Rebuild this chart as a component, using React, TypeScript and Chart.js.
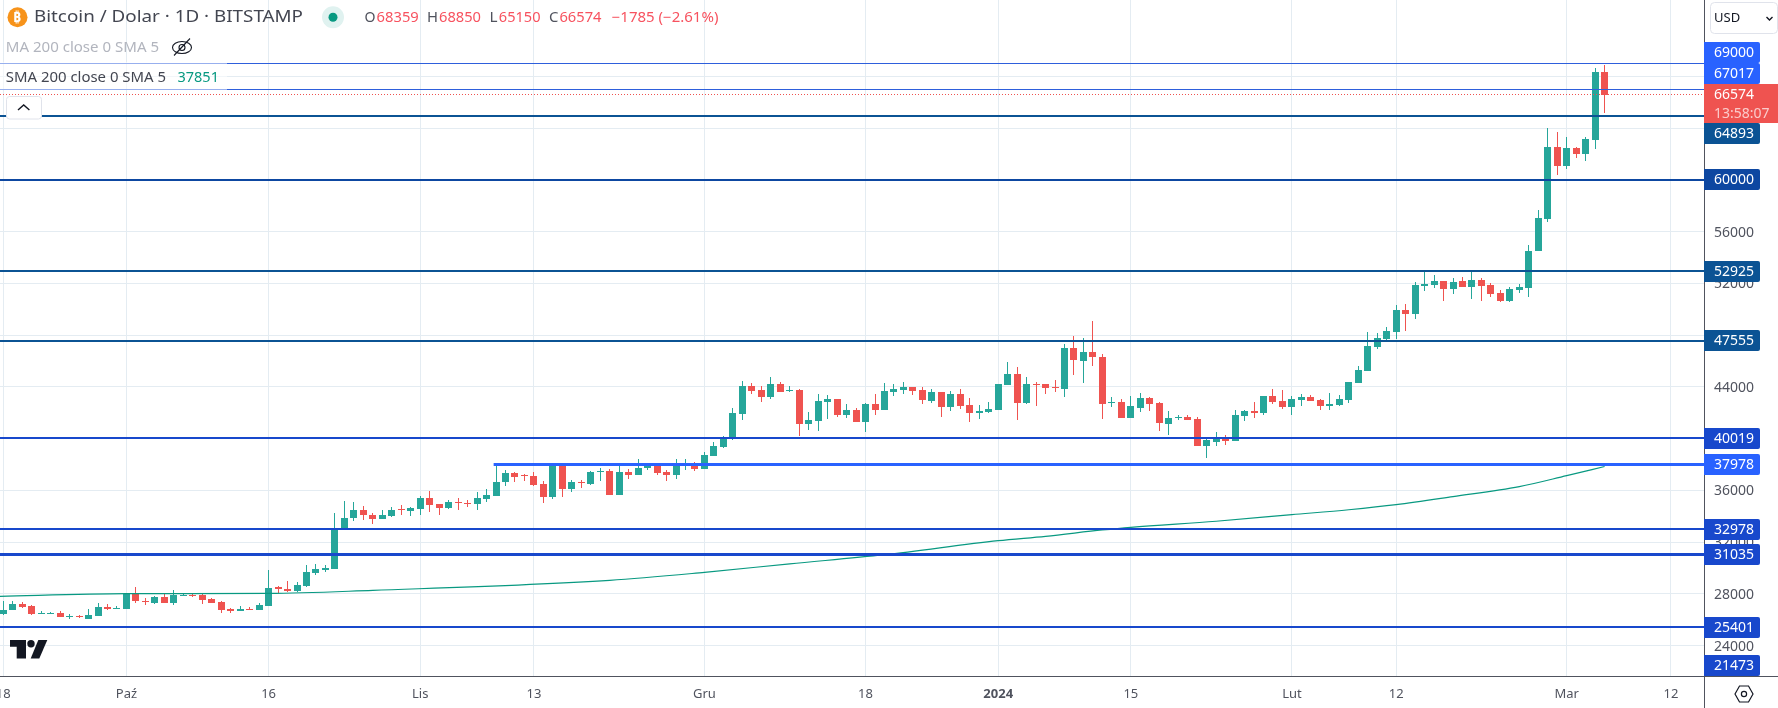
import React, { useEffect, useRef } from "react";
import { Chart, registerables } from "chart.js";

Chart.register(...registerables);

const opens = [26452,26735,27250,27096,26503,26503,26555,26194,26323,26091,26323,27018,26890,26864,28023,27482,27328,27791,27328,27869,27946,27946,27637,27405,26864,26709,26864,26787,27096,28564,28410,28255,28641,29646,29878,29955,33020,33896,34514,34127,33818,34050,34591,34437,34591,35441,34978,34668,35132,35055,34978,35364,35596,36678,37373,37167,37142,36523,35519,37900,36137,36678,36523,37476,37528,35673,37451,37219,37760,37863,37451,37219,37900,37915,37683,38687,39383,39950,41933,44097,43788,43247,44252,43711,43788,41160,41392,42861,43092,41856,42242,41315,42706,42242,43633,43788,44020,43788,42938,43633,42474,43479,42629,42010,42088,42242,44174,45024,42783,44252,44252,44020,43865,47034,46030,46725,46339,42810,42861,41625,42397,43170,42784,41161,41625,41702,41547,39461,39770,40002,39847,41779,42166,42011,43325,42938,42475,43016,43248,43016,42552,42630,43016,44330,45257,47112,47730,48271,49971,49662,51826,51903,52212,51594,52212,51749,52290,51903,51285,50667,51517,51670,54530,57003,62567,61098,62489,62026,63108,68359];
const highs = [27431,27482,27405,27173,26709,26632,26709,26478,26400,26864,27328,27250,27096,28023,28564,27714,27869,28049,28332,28023,28049,28023,27714,27482,26941,27096,27018,27328,29878,28641,29028,28950,30264,30342,30264,34256,35210,35132,34823,34282,34514,34746,34900,34746,35596,35982,34978,35287,35441,35287,35905,36137,37863,37605,37451,37296,37451,36755,37978,37950,36832,36832,37528,37760,37683,37915,37683,38456,38000,38000,37606,38456,38456,38224,38996,39769,40233,42397,44483,44329,44097,44793,44406,44097,43865,42088,43479,43401,43092,42706,42397,42783,43479,44329,44252,44406,44020,44020,43865,43633,43711,43865,43170,42629,42861,44252,45952,45565,44793,44406,44252,44561,47343,47962,47807,49121,46571,43248,43093,43325,43557,43248,42861,42166,41857,41857,41702,40002,40543,40311,42243,42243,42861,43325,43866,43789,43325,43480,43402,43093,43557,43402,44407,45644,48271,48194,48657,50358,50435,52135,52908,52676,52212,52444,52521,53062,52444,52058,51517,51749,51980,54993,57698,64035,63726,63340,62567,63340,68672,68850];
const lows = [26400,26735,26890,26400,26503,26478,26194,26040,26117,26091,26323,26735,26890,26864,27328,27173,27250,27328,27173,27869,27740,27250,27328,26555,26555,26709,26787,26787,27096,28100,28178,28178,28538,29492,29723,29903,33020,33664,33741,33432,33818,33973,34127,34050,34127,34359,34127,34591,34514,34746,34514,35132,35596,36369,36678,36755,36369,35055,35364,35519,35905,36214,36446,36755,35673,35673,36910,37219,37606,37219,36755,36910,37606,37528,37683,38687,39306,39924,41470,43479,42861,43092,43633,43633,40233,40697,40620,41547,41701,41624,41315,40542,41856,42242,43324,43479,43401,42706,42783,41701,42165,42320,41315,41547,42010,42242,44174,41470,42706,42551,43479,43633,43248,44948,44330,45643,41547,42475,41625,41625,42088,42166,40620,40311,41470,41470,39461,38534,39461,39538,39847,41393,41625,41857,42707,42320,41857,42552,42938,42243,42243,42552,42784,44330,45257,46957,47575,47730,48348,49276,51440,51671,50667,51208,51749,50821,50667,50976,50589,50589,51285,50975,54530,56771,60403,60867,61717,61485,62412,65150];
const closes = [26787,27250,27018,26478,26555,26555,26194,26297,26194,26400,27018,26864,26941,28023,27431,27431,27791,27328,27946,27946,27869,27560,27328,26787,26709,26864,26787,27173,28487,28358,28255,28719,29723,29955,30007,33123,33896,34514,34127,33818,34127,34514,34540,34668,35441,34900,34668,35132,35081,35003,35441,35673,36678,37373,37064,37090,36446,35519,37900,36137,36678,36627,37451,37528,35673,37451,37219,37760,37863,37374,37219,37915,37960,37683,38765,39460,40078,42010,44097,43711,43247,44252,43633,43788,41160,41470,42938,43092,41856,42242,41315,42706,42242,43711,43865,44020,43711,43015,43633,42474,43479,42551,42010,42165,42320,44252,45024,42783,44252,44174,43943,43943,47034,46107,46725,46339,42707,42861,41625,42552,43170,42707,41238,41625,41676,41470,39461,39925,40079,39847,41857,42166,42011,43325,42861,42475,43093,43248,42938,42552,42707,43093,44407,45334,47189,47807,48348,49971,49662,51903,51980,52212,51594,52135,51749,52290,51826,51208,50667,51594,51749,54530,57080,62567,61098,62489,62026,63185,68359,66574];

const smaDays = [-1,13,28,39,64,74,83,93,105,110,116,119,128,136,142,147,153,160,165,169];
const smaValues = [27800,28023,28040,28280,29053,29670,30330,31035,32120,32456,32946,33152,33620,34130,34510,34900,35522,36295,37145,37851];

const yTicks = [24000,28000,32000,36000,40000,44000,48000,52000,56000,60000,64000,68000];
const xTickDays = [0,13,28,44,56,74,91,105,119,136,147,165,176];
const xTickLabels = ["18","Paź","16","Lis","13","Gru","18","2024","15","Lut","12","Mar","12"];

const levelValues = [69000,67017,64893,60000,52925,47555,40019,37978,32978,31035,25401,21473];
const levelStartDays = [null,null,null,null,null,null,null,51.75,null,null,null,null];
const levelColors = ["#2e5fdc","#2e5fdc","#0b5394","#0d47a1","#0b5394","#0b5394","#1848cc","#2962ff","#1848cc","#1848cc","#1848cc","#1848cc"];
const labelColors = ["#2962ff","#2962ff","#0b5394","#0d47a1","#0b5394","#0b5394","#1848cc","#2962ff","#1848cc","#1848cc","#1848cc","#1848cc"];
const levelWidths = [1,1,2,2,2,2,2,3,2,3,2,2];

const lastPrice = 66574;
const countdown = "13:58:07";
const smaLast = "37851";
const UI = '"Noto Sans", sans-serif';
const GREEN = "#26a69a";
const RED = "#ef5350";
const GRID = "#e4ecf2";
const AXIS = "#50535e";
const XMIN = -0.348;
const XMAX = 179.49;

function roundedRight(ctx: any, x: number, y: number, w: number, h: number, r: number) {
  ctx.beginPath();
  ctx.roundRect(x, y, w, h, [0, r, r, 0]);
  ctx.fill();
}

// draws text stretched to the span it takes in the reference
function spanText(ctx: any, text: string, x0: number, x1: number, y: number) {
  const w = ctx.measureText(text).width;
  ctx.save();
  ctx.translate(x0, y);
  ctx.scale((x1 - x0) / w, 1);
  ctx.fillText(text, 0, 0);
  ctx.restore();
}

const snapPlugin = {
  id: "snap",
  beforeDatasetsDraw(chart: any) {
    chart.getSortedVisibleDatasetMetas().forEach((meta: any) => {
      const ds = chart.data.datasets[meta.index];
      if (meta.type === "bar") {
        meta.data.forEach((e: any) => {
          e.x = Math.floor(e.x) + 0.5;
          let a = Math.round(e.y), b = Math.round(e.base);
          if (a === b) b = a + 1;
          e.y = a; e.base = b;
        });
      } else if (ds.level) {
        const w = ds.borderWidth;
        meta.data.forEach((e: any) => {
          e.y = w % 2 ? Math.floor(e.y) + 0.5 : Math.round(e.y - 0.2);
        });
      }
    });
  },
};

const overlayPlugin = {
  id: "overlay",
  afterDraw(chart: any) {
    const ctx = chart.ctx;
    const y = chart.scales.y;
    const area = chart.chartArea;
    const H = 21;
    ctx.save();

    // axis frame
    ctx.fillStyle = AXIS;
    ctx.fillRect(area.right, 0, 1, chart.height);
    ctx.fillRect(0, area.bottom, chart.width, 1);

    // legend veil over the lines
    ctx.fillStyle = "rgba(255,255,255,0.5)";
    ctx.fillRect(0, 62, 227, 28);

    ctx.textBaseline = "middle";
    ctx.textAlign = "left";

    // Symbol row
    ctx.fillStyle = "#f7931a";
    ctx.beginPath(); ctx.arc(17.5, 17.3, 10, 0, Math.PI * 2); ctx.fill();
    ctx.fillStyle = "#ffffff";
    ctx.font = `bold 14px ${UI}`;
    ctx.fillText("₿", 13, 17.6);
    ctx.fillStyle = "#434651";
    ctx.font = `16px ${UI}`;
    spanText(ctx, "Bitcoin / Dolar · 1D · BITSTAMP", 34, 303, 17.5);
    ctx.fillStyle = "#e0f2f0";
    ctx.beginPath(); ctx.arc(333, 17.3, 11, 0, Math.PI * 2); ctx.fill();
    ctx.fillStyle = "#089981";
    ctx.beginPath(); ctx.arc(333, 17.3, 4.5, 0, Math.PI * 2); ctx.fill();

    const ohlc: [string, number, number, string][] = [
      ["O", 364.5, 375.5, "#50535e"], ["68359", 376.6, 418.8, "#f7525f"],
      ["H", 427, 438, "#50535e"], ["68850", 439, 481, "#f7525f"],
      ["L", 489.6, 497.6, "#50535e"], ["65150", 498.8, 540.5, "#f7525f"],
      ["C", 549, 558.4, "#50535e"], ["66574", 559.4, 601.5, "#f7525f"],
      ["−1785 (−2.61%)", 611.7, 718.4, "#f7525f"],
    ];
    ctx.font = `14px ${UI}`;
    ohlc.forEach(([t, a, b, c]) => { ctx.fillStyle = c; spanText(ctx, t, a, b, 18); });

    ctx.fillStyle = "#b2b5be";
    spanText(ctx, "MA 200 close 0 SMA 5", 5.8, 159, 48);
    // hidden-eye icon
    ctx.strokeStyle = "#131722";
    ctx.lineWidth = 1.1;
    ctx.beginPath(); ctx.ellipse(182, 47.5, 9.5, 6, 0, 0, Math.PI * 2); ctx.stroke();
    ctx.beginPath(); ctx.arc(182, 47.5, 3, 0, Math.PI * 2); ctx.stroke();
    ctx.beginPath(); ctx.moveTo(174, 55.5); ctx.lineTo(190, 38.5); ctx.stroke();

    ctx.fillStyle = "#434651";
    spanText(ctx, "SMA 200 close 0 SMA 5", 5.8, 166, 78);
    ctx.fillStyle = "#089981";
    spanText(ctx, smaLast, 177.4, 219, 78);

    // collapse button
    ctx.fillStyle = "#ffffff";
    ctx.strokeStyle = "#e0e3eb";
    ctx.lineWidth = 1;
    ctx.beginPath(); ctx.roundRect(6.5, 96.5, 35, 22.5, 3); ctx.fill(); ctx.stroke();
    ctx.strokeStyle = "#131722";
    ctx.lineWidth = 1.4;
    ctx.beginPath(); ctx.moveTo(18, 110); ctx.lineTo(23.7, 105); ctx.lineTo(29.4, 110); ctx.stroke();

    // TradingView logo
    ctx.fillStyle = "#131722";
    ctx.beginPath();
    ctx.moveTo(10, 640); ctx.lineTo(26, 640); ctx.lineTo(26, 658.5); ctx.lineTo(16.7, 658.5); ctx.lineTo(16.7, 646.7); ctx.lineTo(10, 646.7);
    ctx.closePath(); ctx.fill();
    ctx.beginPath(); ctx.arc(31, 643.7, 3.7, 0, Math.PI * 2); ctx.fill();
    ctx.beginPath();
    ctx.moveTo(38.3, 640); ctx.lineTo(47.3, 640); ctx.lineTo(39.3, 658.5); ctx.lineTo(30.7, 658.5);
    ctx.closePath(); ctx.fill();

    // USD selector
    ctx.fillStyle = "#ffffff";
    ctx.strokeStyle = "#e0e3eb";
    ctx.lineWidth = 1;
    ctx.beginPath(); ctx.roundRect(1710.5, 2.5, 67, 31, 4); ctx.fill(); ctx.stroke();
    ctx.fillStyle = "#131722";
    ctx.font = `13px ${UI}`;
    ctx.fillText("USD", 1714, 18);
    ctx.strokeStyle = "#131722";
    ctx.lineWidth = 1.4;
    ctx.beginPath(); ctx.moveTo(1766.5, 17); ctx.lineTo(1769.5, 20); ctx.lineTo(1772.5, 17); ctx.stroke();

    // settings hexagon
    ctx.strokeStyle = "#131722";
    ctx.lineWidth = 1.2;
    ctx.beginPath();
    ctx.moveTo(1735, 694); ctx.lineTo(1739.5, 686); ctx.lineTo(1748.5, 686); ctx.lineTo(1753, 694); ctx.lineTo(1748.5, 702); ctx.lineTo(1739.5, 702);
    ctx.closePath(); ctx.stroke();
    ctx.beginPath(); ctx.arc(1744, 694, 2.6, 0, Math.PI * 2); ctx.stroke();

    // price labels: stacked round the last-price block
    const lastTop = Math.round(y.getPixelForValue(lastPrice)) - 11;
    const lastBottom = lastTop + 39;
    const tops: number[] = [];
    levelValues.forEach((v, i) => {
      let t = Math.round(y.getPixelForValue(v) - 10.5);
      t = Math.min(t, area.bottom - H);
      tops[i] = t;
    });
    let ceil = lastTop;
    for (let i = levelValues.length - 1; i >= 0; i--) {
      if (levelValues[i] > lastPrice) { tops[i] = Math.min(tops[i], ceil - H); ceil = tops[i]; }
    }
    let floor = lastBottom;
    for (let i = 0; i < levelValues.length; i++) {
      if (levelValues[i] < lastPrice) { tops[i] = Math.max(tops[i], floor); floor = tops[i] + H; }
    }
    const W = 56;
    ctx.font = `14px ${UI}`;
    levelValues.forEach((v, i) => {
      ctx.fillStyle = labelColors[i];
      roundedRight(ctx, area.right, tops[i], W, H, 2);
      ctx.fillStyle = "#ffffff";
      ctx.fillText(String(v), 1714, tops[i] + 11);
    });
    ctx.fillStyle = RED;
    ctx.fillRect(area.right, lastTop, chart.width - area.right, 39);
    ctx.fillStyle = "#ffffff";
    ctx.fillText(String(lastPrice), 1714, lastTop + 11);
    ctx.fillStyle = "rgba(255,255,255,0.7)";
    ctx.fillText(countdown, 1714, lastTop + 30);
    ctx.restore();
  },
};

export default function App() {
  const ref = useRef<HTMLCanvasElement | null>(null);
  useEffect(() => {
    document.body.style.margin = "0";
    const days = opens.map((_, i) => i);
    const colors = days.map((i) => (closes[i] >= opens[i] ? GREEN : RED));
    const bar = { type: "bar", grouped: false, borderWidth: 0, inflateAmount: 0, borderSkipped: false };
    const levelSets = levelValues.map((v, i) => ({
      type: "line",
      level: true,
      data: [{ x: levelStartDays[i] ?? XMIN, y: v }, { x: XMAX, y: v }],
      borderColor: levelColors[i],
      borderWidth: levelWidths[i],
      pointRadius: 0,
      tension: 0,
      order: 1,
    }));
    const chart = new Chart(ref.current as any, {
      data: {
        datasets: [
          ...levelSets,
          {
            type: "line",
            level: true,
            data: [{ x: XMIN, y: lastPrice }, { x: XMAX, y: lastPrice }],
            borderColor: RED,
            borderWidth: 1,
            borderDash: [1, 2],
            pointRadius: 0,
            order: 2,
          },
          {
            type: "line",
            data: smaDays.map((d, i) => ({ x: d, y: smaValues[i] })),
            borderColor: "#089981",
            borderWidth: 1.2,
            pointRadius: 0,
            cubicInterpolationMode: "monotone",
            order: 3,
          },
          { ...bar, data: days.map((i) => ({ x: i, y: [opens[i], closes[i]] })), backgroundColor: colors, barThickness: 7, order: 4 },
          { ...bar, data: days.map((i) => ({ x: i, y: [lows[i], highs[i]] })), backgroundColor: colors, barThickness: 1, order: 5 },
        ] as any,
      },
      options: {
        responsive: false,
        animation: false,
        events: [],
        layout: { padding: 0, autoPadding: false },
        plugins: { legend: { display: false }, title: { display: false }, tooltip: { enabled: false } },
        scales: {
          x: {
            type: "linear",
            min: XMIN,
            max: XMAX,
            offset: false,
            afterBuildTicks: (s: any) => { s.ticks = xTickDays.map((value) => ({ value })); },
            afterFit: (s: any) => { s.height = 32; s.paddingLeft = 0; s.paddingRight = 0; },
            grid: { color: GRID, drawTicks: false, offset: false },
            border: { display: false },
            ticks: {
              autoSkip: false,
              maxRotation: 0,
              padding: 10,
              color: AXIS,
              font: (c: any) => ({ family: "Noto Sans", size: 13, weight: c.index === 7 ? "bold" : "normal" }),
              callback: (_v: any, i: number) => xTickLabels[i],
            },
          },
          y: {
            type: "linear",
            position: "right",
            min: 21660,
            max: 73905,
            afterBuildTicks: (s: any) => { s.ticks = yTicks.map((value) => ({ value })); },
            afterFit: (s: any) => { s.width = 74; s.paddingTop = 0; s.paddingBottom = 0; },
            grid: { color: GRID, drawTicks: false },
            border: { display: false },
            ticks: { autoSkip: false, padding: 10, labelOffset: 1, color: AXIS, font: { family: "Noto Sans", size: 14 }, callback: (v: any) => String(v) },
          },
        },
      },
      plugins: [snapPlugin, overlayPlugin],
    } as any);
    return () => chart.destroy();
  }, []);
  return (
    <div style={{ width: 1778, height: 708, background: "#fff" }}>
      <canvas ref={ref} width={1778} height={708} style={{ display: "block", width: 1778, height: 708 }} />
    </div>
  );
}
